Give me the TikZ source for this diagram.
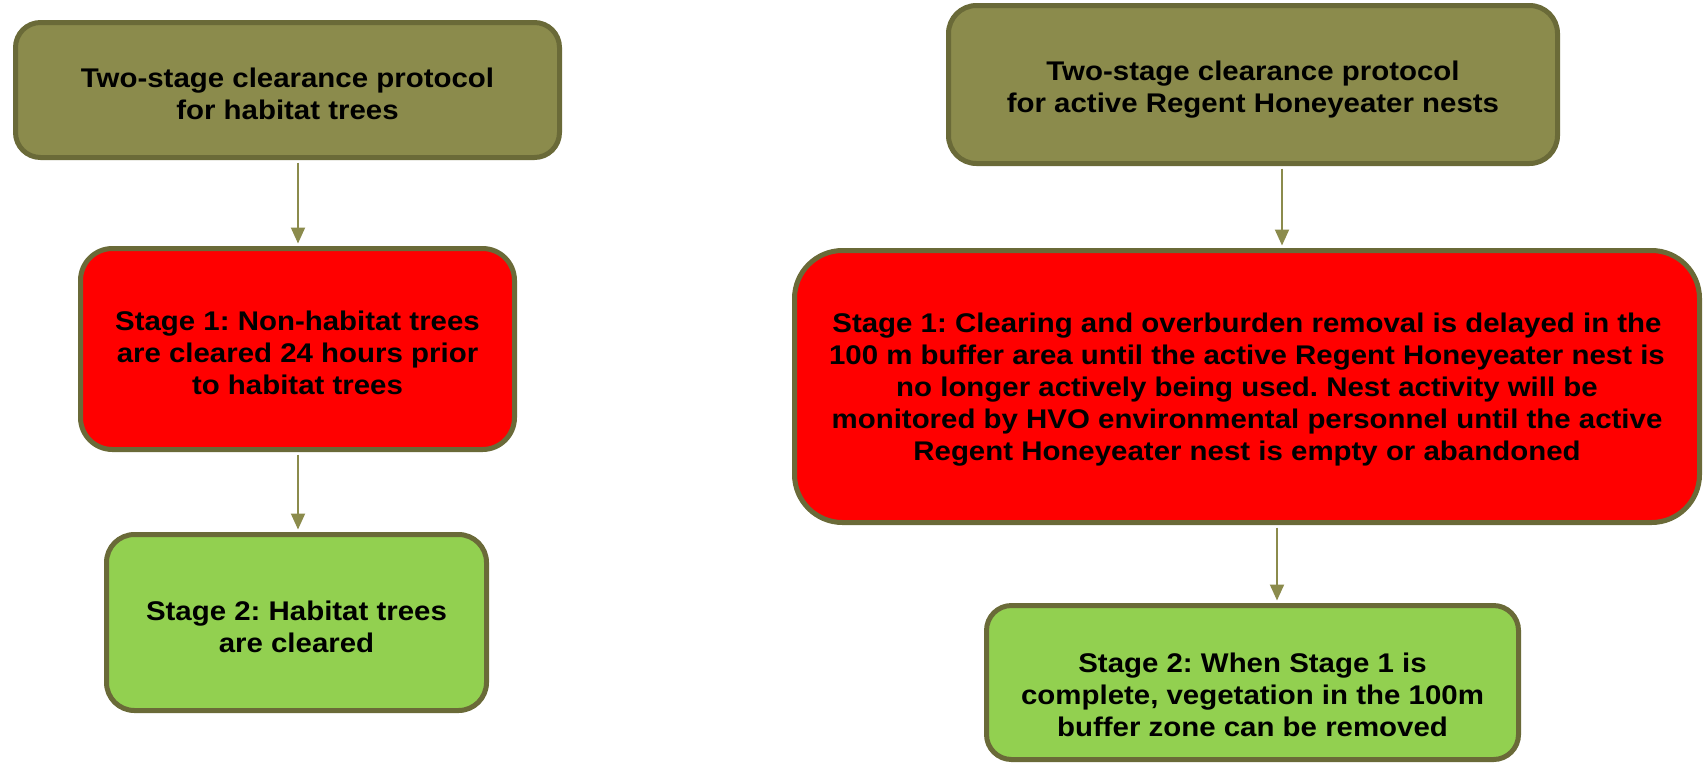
\documentclass[tikz,border=0pt]{standalone}
\usepackage{fontspec}
\setmainfont{Liberation Sans}[FakeStretch=1.09]
\usetikzlibrary{arrows.meta,calc}
\definecolor{olivefill}{RGB}{139,139,76}
\definecolor{boxborder}{RGB}{106,106,56}
\definecolor{redfill}{RGB}{255,0,0}
\definecolor{greenfill}{RGB}{146,208,80}
\frenchspacing
\begin{document}
\begin{tikzpicture}[x=1pt,y=-1pt,
  box/.style={draw=boxborder,line width=5pt,rounded corners=#1,inner sep=0pt},
  txt/.style={font=\fontsize{27}{32}\selectfont\bfseries,align=center,text=black,inner sep=0pt},
  arr/.style={draw=olivefill,line width=2pt,shorten <=2.5pt,shorten >=2.5pt,-{Triangle[length=16pt,width=14pt]}}]
\useasboundingbox (0,0) rectangle (1704,764);
% left column
\node[box=25pt,fill=olivefill,minimum width=544pt,minimum height=135pt] (A) at (287.5,90) {};
\node[box=32pt,fill=redfill,minimum width=434pt,minimum height=201pt] (B) at (297.5,349) {};
\node[box=28pt,fill=greenfill,minimum width=380pt,minimum height=176pt] (C) at (296.5,622.5) {};
\node[txt] (At) at (287.5,94) {Two-stage clearance protocol\\for habitat trees};
\node[txt] (Bt) at (297.5,353) {Stage 1: Non-habitat trees\\are cleared 24 hours prior\\to habitat trees};
\node[txt] (Ct) at (296.5,627) {Stage 2: Habitat trees\\are cleared};
% right column
\node[box=28pt,fill=olivefill,minimum width=609pt,minimum height=158pt] (D) at (1253,84.5) {};
\node[box=48pt,fill=redfill,minimum width=905pt,minimum height=272pt] (E) at (1247,386.5) {};
\node[box=25pt,fill=greenfill,minimum width=532pt,minimum height=154pt] (F) at (1252.5,682.5) {};
\node[txt] (Dt) at (1253,90) {Two-stage clearance protocol\\for active Regent Honeyeater nests};
\node[txt] (Et) at (1247,390) {Stage 1: Clearing and overburden removal is delayed in the\\100 m buffer area until the active Regent Honeyeater nest is\\no longer actively being used. Nest activity will be\\monitored by HVO environmental personnel until the active\\Regent Honeyeater nest is empty or abandoned};
\node[txt] (Ft) at (1252.5,695) {Stage 2: When Stage 1 is\\complete, vegetation in the 100m\\buffer zone can be removed};
% connectors
\coordinate (xl) at (298,0);
\coordinate (xr1) at (1282,0);
\coordinate (xr2) at (1277,0);
\draw[arr] (A.south -| xl) -- (B.north -| xl);
\draw[arr] (B.south -| xl) -- (C.north -| xl);
\draw[arr] (D.south -| xr1) -- (E.north -| xr1);
\draw[arr] (E.south -| xr2) -- (F.north -| xr2);
\end{tikzpicture}
\end{document}
